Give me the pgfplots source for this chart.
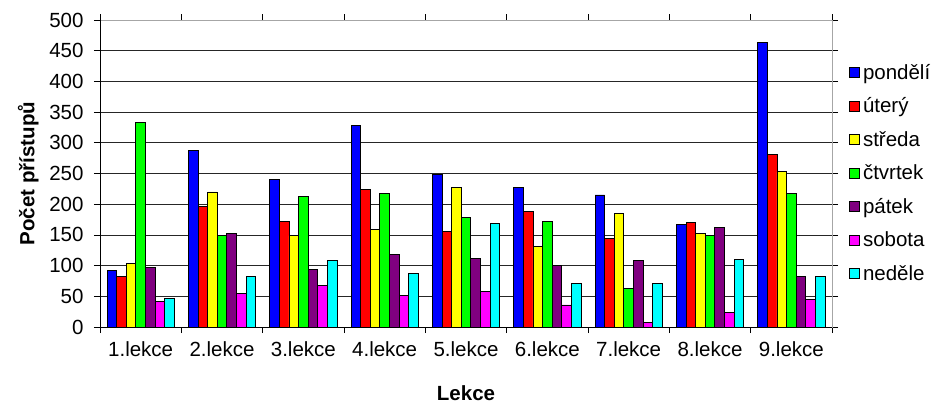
\documentclass[border=0pt]{standalone}
\usepackage{pgfplots}
\pgfplotsset{compat=1.18}
\usepackage{fontspec}
\setmainfont{Liberation Sans}

\definecolor{cPo}{HTML}{0000FF}
\definecolor{cUt}{HTML}{FF0000}
\definecolor{cSt}{HTML}{FFFF00}
\definecolor{cCt}{HTML}{00FF00}
\definecolor{cPa}{HTML}{800080}
\definecolor{cSo}{HTML}{FF00FF}
\definecolor{cNe}{HTML}{00FFFF}

\begin{document}
\begin{tikzpicture}
\path[use as bounding box] (-100pt,-78pt) rectangle (836pt,327pt);
\begin{axis}[
    scale only axis,
    width=732pt, height=307pt,
    ybar=0pt, bar width=9.6pt,
    xmin=0.5, xmax=9.5,
    ymin=0, ymax=500,
    ytick={0,50,...,500},
    xtick={1,...,9},
    xticklabels={1.lekce,2.lekce,3.lekce,4.lekce,5.lekce,6.lekce,7.lekce,8.lekce,9.lekce},
    major x tick style={draw=none},
    minor xtick={0.5,1.5,...,9.5},
    minor x tick style={black, line width=0.8pt},
    tick align=outside,
    major tick length=6pt, minor tick length=6pt,
    y tick style={black, line width=0.8pt},
    ymajorgrids,
    grid style={black!85, line width=0.8pt},
    axis line style={gray!70, line width=0.8pt},
    font=\fontsize{20.5}{24}\selectfont,
    tick label style={font=\fontsize{20.5}{24}\selectfont},
    /pgf/number format/assume math mode=true,
    yticklabel style={xshift=-7pt},
    xticklabel style={yshift=-5pt},
    ylabel={\bfseries Počet přístupů},
    xlabel={\bfseries Lekce},
    every axis y label/.style={at={(axis description cs:-0.098,0.5)},rotate=90,anchor=center},
    every axis x label/.style={at={(axis description cs:0.5,-0.216)},anchor=center},
    legend style={at={(1,0.87)}, anchor=north west, xshift=14pt, draw=none, fill=none,
        row sep=13pt, font=\fontsize{20.5}{24}\selectfont,
        nodes={inner xsep=3pt}},
    legend cell align=left,
    legend image code/.code={\draw[#1,draw=black,line width=0.8pt] (0pt,-5pt) rectangle (10pt,5pt);},
    every axis plot/.append style={draw=black, line width=0.8pt},
]
\addplot[fill=cPo] coordinates {(1,92) (2,287) (3,240) (4,328) (5,248) (6,227) (7,215) (8,167) (9,463)};
\addplot[fill=cUt] coordinates {(1,82) (2,197) (3,172) (4,224) (5,155) (6,188) (7,144) (8,170) (9,281)};
\addplot[fill=cSt] coordinates {(1,103) (2,220) (3,149) (4,159) (5,227) (6,131) (7,185) (8,152) (9,253)};
\addplot[fill=cCt] coordinates {(1,333) (2,149) (3,212) (4,217) (5,178) (6,172) (7,63) (8,149) (9,218)};
\addplot[fill=cPa] coordinates {(1,97) (2,152) (3,94) (4,118) (5,112) (6,100) (7,108) (8,162) (9,82)};
\addplot[fill=cSo] coordinates {(1,42) (2,55) (3,68) (4,52) (5,58) (6,36) (7,8) (8,24) (9,45)};
\addplot[fill=cNe] coordinates {(1,47) (2,82) (3,109) (4,87) (5,169) (6,71) (7,71) (8,110) (9,82)};
\legend{pondělí,úterý,středa,čtvrtek,pátek,sobota,neděle}
\draw[black, line width=0.8pt] (rel axis cs:0,0) -- (rel axis cs:0,1);
\draw[black, line width=0.8pt] (rel axis cs:0,0) -- (rel axis cs:1,0);
\end{axis}
\end{tikzpicture}
\end{document}
